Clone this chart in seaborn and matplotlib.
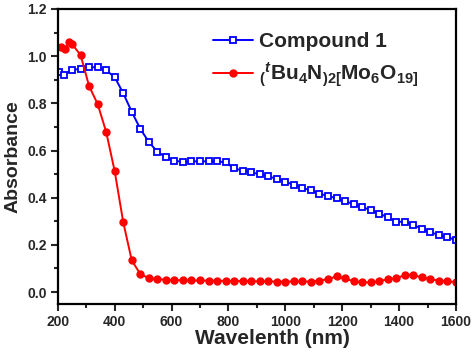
import matplotlib
matplotlib.use('Agg')
import matplotlib.pyplot as plt
import seaborn as sns
import numpy as np
from matplotlib.ticker import MultipleLocator

sns.set_style('ticks')
plt.rcParams['font.family'] = ['Liberation Sans', 'DejaVu Sans']
plt.rcParams['font.weight'] = 'bold'
plt.rcParams['mathtext.fontset'] = 'custom'
plt.rcParams['mathtext.rm'] = 'Liberation Sans:bold'
plt.rcParams['mathtext.it'] = 'Liberation Sans:bold:italic'
plt.rcParams['mathtext.bf'] = 'Liberation Sans:bold'

# Compound 1 (blue, open squares)
blue_x = [205, 220, 250, 280, 310, 340, 370, 400, 430, 460, 490, 520, 550, 580, 610,
          640, 670, 700, 730, 760, 790, 820, 850, 880, 910, 940, 970, 1000, 1030,
          1060, 1090, 1120, 1150, 1180, 1210, 1240, 1270, 1300, 1330, 1360, 1390,
          1420, 1450, 1480, 1510, 1540, 1570, 1600]
blue_y = [0.932, 0.921, 0.942, 0.946, 0.953, 0.953, 0.940, 0.911, 0.843, 0.764, 0.692,
          0.636, 0.595, 0.571, 0.557, 0.551, 0.554, 0.554, 0.554, 0.554, 0.550, 0.524,
          0.515, 0.507, 0.500, 0.490, 0.480, 0.467, 0.455, 0.441, 0.431, 0.417, 0.407,
          0.398, 0.385, 0.373, 0.361, 0.347, 0.333, 0.317, 0.298, 0.298, 0.285, 0.268,
          0.254, 0.241, 0.233, 0.220]

# (tBu4N)2[Mo6O19] (red, filled circles)
red_x = [210, 225, 240, 250, 280, 310, 340, 370, 400, 430, 460, 490, 520, 550, 580,
         610, 640, 670, 700, 730, 760, 790, 820, 850, 880, 910, 940, 970, 1000, 1030,
         1060, 1090, 1120, 1150, 1180, 1210, 1240, 1270, 1300, 1330, 1360, 1390, 1420,
         1450, 1480, 1510, 1540, 1570, 1600]
red_y = [1.040, 1.030, 1.058, 1.051, 1.005, 0.873, 0.797, 0.679, 0.512, 0.296, 0.134,
         0.076, 0.059, 0.055, 0.052, 0.050, 0.050, 0.049, 0.049, 0.048, 0.048, 0.047,
         0.047, 0.046, 0.046, 0.045, 0.045, 0.044, 0.044, 0.045, 0.045, 0.044, 0.048,
         0.055, 0.066, 0.058, 0.045, 0.041, 0.041, 0.045, 0.055, 0.058, 0.072, 0.072,
         0.062, 0.055, 0.048, 0.045, 0.043]

fig = plt.figure(figsize=(4.74, 3.6), dpi=100)
ax = fig.add_axes([0.122, 0.156, 0.840, 0.819])

sns.lineplot(x=blue_x, y=blue_y, ax=ax, color='#0000ff', linewidth=1.4,
             marker='s', markersize=5, markerfacecolor='white',
             markeredgecolor='#0000ff', markeredgewidth=1.3, label='Compound 1')
sns.lineplot(x=red_x, y=red_y, ax=ax, color='#ff0000', linewidth=1.4,
             marker='o', markersize=5, markerfacecolor='#ff0000',
             markeredgecolor='#ff0000', markeredgewidth=1,
             label=r'$_($$^{t}$Bu$_4$N$_{)2[}$Mo$_6$O$_{19]}$')

ax.set_xlim(200, 1600)
ax.set_ylim(-0.05, 1.2)
ax.xaxis.set_major_locator(MultipleLocator(200))
ax.xaxis.set_minor_locator(MultipleLocator(100))
ax.yaxis.set_minor_locator(MultipleLocator(0.1))
ax.set_yticks(np.arange(0, 1.21, 0.2))
ax.set_yticklabels(['0.0', '0.2', '0.4', '0.6', '0.8', '1.0', '1.2'])

for s in ax.spines.values():
    s.set_linewidth(1.6)
    s.set_color('black')
ax.tick_params(which='major', direction='out', length=5, width=1.5,
               labelsize=10, pad=3)
ax.tick_params(which='minor', direction='out', length=3, width=1.5)
for lab in ax.get_xticklabels() + ax.get_yticklabels():
    lab.set_fontweight('bold')

ax.set_xlabel('Wavelenth (nm)', fontsize=15, fontweight='bold', labelpad=2)
ax.xaxis.set_label_coords(0.54, -0.085)
ax.set_ylabel('Absorbance', fontsize=14, fontweight='bold', labelpad=4)

leg = ax.legend(loc='upper left', bbox_to_anchor=(0.37, 0.95), frameon=False,
                fontsize=15, handlelength=1.9, handletextpad=0.3, labelspacing=0.45,
                borderaxespad=0.0)
for t in leg.get_texts():
    t.set_fontweight('bold')

fig.savefig('out.png', dpi=100)
